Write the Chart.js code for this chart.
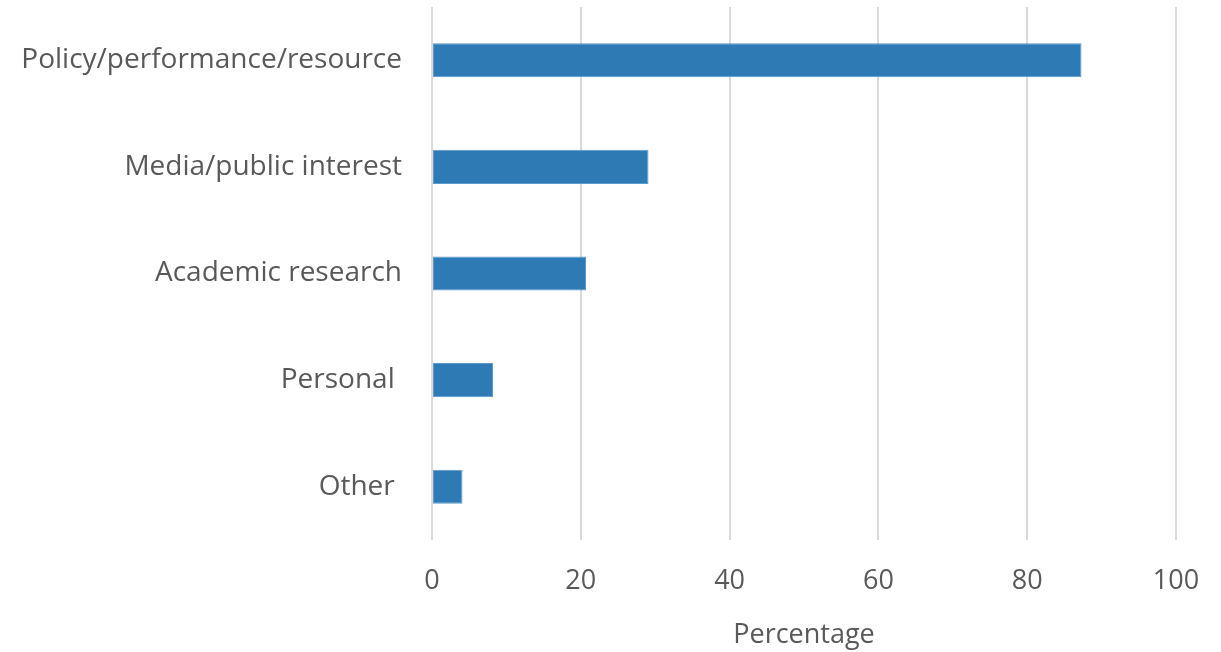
<!DOCTYPE html>
<html>
<head>
<meta charset="utf-8">
<script src="https://cdn.jsdelivr.net/npm/chart.js@4/dist/chart.umd.min.js"></script>
<style>
  html, body { margin: 0; padding: 0; background: #fff; }
  #wrap { width: 1221px; height: 652px; }
</style>
</head>
<body>
<div id="wrap"><canvas id="purposeChart"></canvas></div>
<script>
// 目的別の割合
const categories = ["Policy/performance/resource", "Media/public interest", "Academic research", "Personal ", "Other "];
const percentages = [87.3, 29.1, 20.7, 8.2, 4.1];
const xTicks = [0, 20, 40, 60, 80, 100];

const FONT = "'Open Sans', sans-serif";
const TEXT = "#595959";

const ctx = document.getElementById("purposeChart").getContext("2d");
new Chart(ctx, {
    type: "bar",
    data: {
        labels: categories,
        datasets: [{
            data: percentages,
            backgroundColor: "#2E7AB4",
            borderColor: "#5B9BCB",
            borderWidth: 1,
            borderSkipped: false,
            barPercentage: 0.32,
            categoryPercentage: 1
        }]
    },
    options: {
        indexAxis: "y",
        responsive: true,
        maintainAspectRatio: false,
        animation: false,
        layout: { padding: { top: 7, right: 45, left: 0, bottom: 0 } },
        plugins: {
            legend: { display: false },
            tooltip: { enabled: false }
        },
        scales: {
            x: {
                min: xTicks[0],
                max: xTicks[xTicks.length - 1],
                afterBuildTicks: (scale) => { scale.ticks = xTicks.map(v => ({ value: v })); },
                grid: { color: "#D9D9D9", lineWidth: 2, drawTicks: false },
                border: { display: false },
                ticks: {
                    color: TEXT,
                    font: { family: FONT, size: 27 },
                    padding: 25
                },
                title: {
                    display: true,
                    text: "Percentage",
                    color: TEXT,
                    font: { family: FONT, size: 27 },
                    padding: { top: 12, bottom: 0 }
                },
                afterFit: (scale) => {
                    scale.height = 112;
                    scale.paddingLeft = 0;
                    scale.paddingRight = 0;
                }
            },
            y: {
                grid: { display: false, drawTicks: false },
                border: { display: false },
                ticks: {
                    color: TEXT,
                    font: { family: FONT, size: 28 },
                    padding: 30
                },
                afterFit: (scale) => {
                    scale.width = 432;
                    scale.paddingTop = 0;
                    scale.paddingBottom = 0;
                }
            }
        }
    }
});
</script>
</body>
</html>
